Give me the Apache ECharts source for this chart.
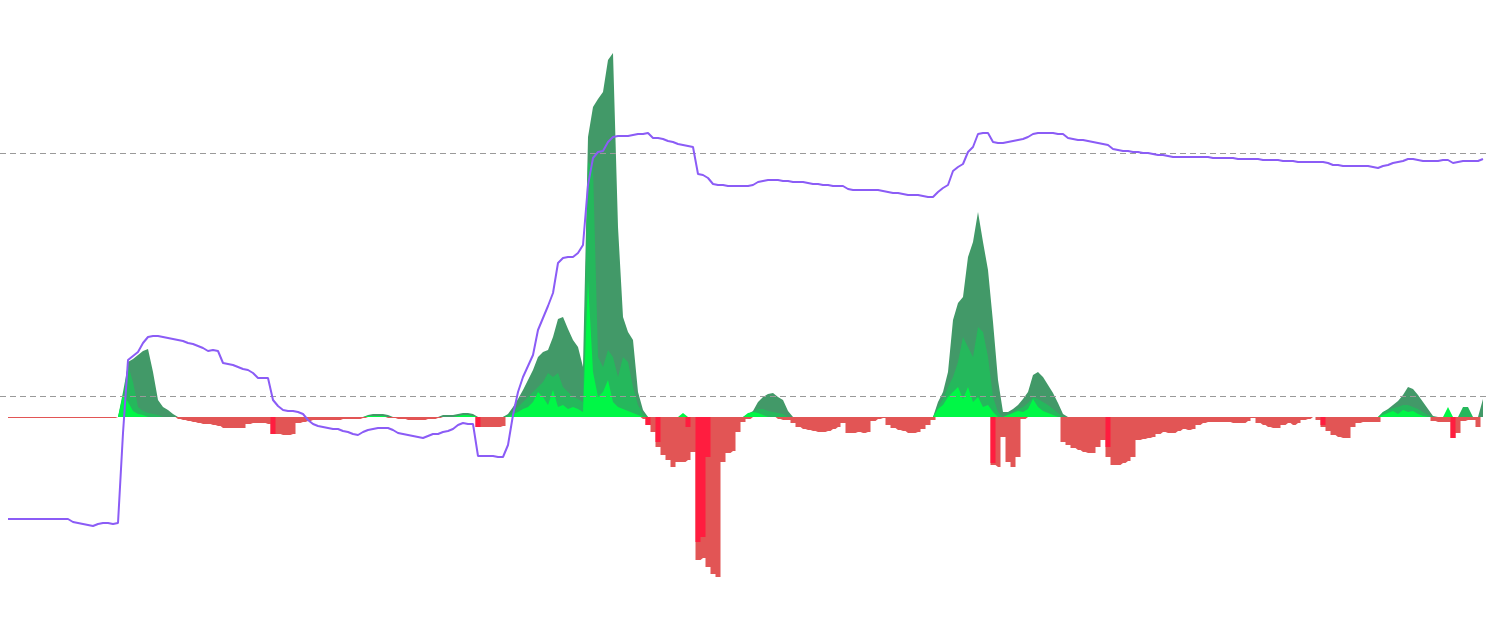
<!DOCTYPE html>
<html><head><meta charset="utf-8">
<script src="https://cdn.jsdelivr.net/npm/echarts@6/dist/echarts.min.js"></script>
<style>html,body{margin:0;padding:0;background:#fff}#c{width:1490px;height:633px}</style>
</head><body><div id="c"></div>
<script>
// purple line (right axis units)
const purple = [
114,114,114,114,114,114,114,114,114,114,
114,114,114,111,110,109,108,107,109,110,
110,109,110,200,273,277,281,290,296,297,
297,296,295,294,293,292,290,289,287,285,
282,283,282,270,269,268,266,264,263,260,
255,255,255,233,227,223,222,222,221,219,
213,209,207,206,205,204,204,202,201,199,
198,201,203,204,205,205,205,203,200,199,
198,197,196,195,197,199,199,201,202,204,
208,210,209,209,177,177,177,177,176,176,
188,218,241,256,267,278,303,315,327,340,
370,375,376,376,380,388,448,475,481,482,
491,496,497,497,497,498,499,499,500,495,
495,494,492,491,489,488,487,486,459,458,
455,449,448,448,447,447,447,447,447,448,
451,452,453,453,453,452,452,451,451,451,
450,449,449,448,448,447,447,447,444,443,
443,443,443,443,443,442,441,440,440,439,
438,438,438,437,436,436,441,445,448,462,
466,469,481,486,499,500,500,491,490,490,
491,492,493,494,496,499,500,500,500,500,
499,499,495,494,493,493,492,491,490,489,
488,484,483,482,482,481,481,480,480,479,
478,478,477,476,476,476,476,476,476,476,
476,475,475,475,475,475,474,474,474,474,
474,473,473,473,473,472,472,472,471,471,
471,471,471,471,470,468,468,467,467,467,
467,467,467,466,465,467,468,470,471,472,
474,474,473,472,472,472,472,473,473,470,
471,472,472,472,472,474
];
const greenDark = [
0,0,0,0,0,0,0,0,0,0,
0,0,0,0,0,0,0,0,0,0,
0,0,0,15,55,58,62,66,68,45,
17,10,7,3,0,0,0,0,0,0,
0,0,0,0,0,0,0,0,0,0,
0,0,0,0,0,0,0,0,0,0,
0,0,0,0,0,0,0,0,0,0,
0,0,2,3,3,3,2,0,0,0,
0,0,0,0,0,0,0,2,2,2,
3,4,4,3,0,0,0,0,0,0,
3,10,18,27,37,47,60,65,67,80,
98,100,88,77,70,50,280,310,318,325,
357,364,190,100,85,77,25,7,0,0,
0,0,0,0,0,0,0,0,0,0,
0,0,0,0,0,0,0,0,3,6,
15,20,23,24,20,17,6,0,0,0,
0,0,0,0,0,0,0,0,0,0,
0,0,0,0,0,0,0,0,0,0,
0,0,0,0,0,0,15,25,45,97,
114,120,160,175,205,175,147,95,37,5,
5,8,12,18,25,42,45,40,32,24,
14,3,0,0,0,0,0,0,0,0,
0,0,0,0,0,0,0,0,0,0,
0,0,0,0,0,0,0,0,0,0,
0,0,0,0,0,0,0,0,0,0,
0,0,0,0,0,0,0,0,0,0,
0,0,0,0,0,0,0,0,0,0,
0,0,0,0,0,5,8,12,16,22,
30,28,22,15,8,1,0,0,0,0,
0,0,0,0,0,18
];
const greenMid = [
0,0,0,0,0,0,0,0,0,0,
0,0,0,0,0,0,0,0,0,0,
0,0,0,25,52,35,10,6,4,3,
2,0,0,0,0,0,0,0,0,0,
0,0,0,0,0,0,0,0,0,0,
0,0,0,0,0,0,0,0,0,0,
0,0,0,0,0,0,0,0,0,0,
0,0,0,0,0,0,0,0,0,0,
0,0,0,0,0,0,0,0,0,0,
0,0,0,0,0,0,0,0,0,0,
2,6,10,15,20,25,30,35,44,40,
44,30,25,20,18,15,255,250,60,50,
67,60,40,60,55,30,12,3,0,0,
0,0,0,0,0,0,0,0,0,0,
0,0,0,0,0,0,0,0,0,5,
8,8,6,5,4,3,0,0,0,0,
0,0,0,0,0,0,0,0,0,0,
0,0,0,0,0,0,0,0,0,0,
0,0,0,0,0,0,10,18,30,40,
55,80,70,60,90,85,60,20,5,0,
3,5,8,10,14,20,18,15,12,8,
4,0,0,0,0,0,0,0,0,0,
0,0,0,0,0,0,0,0,0,0,
0,0,0,0,0,0,0,0,0,0,
0,0,0,0,0,0,0,0,0,0,
0,0,0,0,0,0,0,0,0,0,
0,0,0,0,0,0,0,0,0,0,
0,0,0,0,0,5,7,9,10,12,
12,10,8,5,2,0,0,0,0,0,
0,10,10,0,0,0
];
const greenBright = [
0,0,0,0,0,0,0,0,0,0,
0,0,0,0,0,0,0,0,0,0,
0,0,0,22,15,6,3,2,0,0,
0,0,0,0,0,0,0,0,0,0,
0,0,0,0,0,0,0,0,0,0,
0,0,0,0,0,0,0,0,0,0,
0,0,0,0,0,0,0,0,0,0,
0,0,1,1,1,1,0,0,0,0,
0,0,0,0,0,0,0,0,0,0,
1,2,2,1,0,0,0,0,0,0,
0,3,5,8,10,15,25,20,12,27,
10,12,8,10,8,5,137,45,20,25,
37,15,10,8,6,4,2,0,0,0,
0,0,0,0,0,4,0,0,0,0,
0,0,0,0,0,0,0,0,4,5,
4,2,0,0,0,0,0,0,0,0,
0,0,0,0,0,0,0,0,0,0,
0,0,0,0,0,0,0,0,0,0,
0,0,0,0,0,0,8,12,20,25,
30,18,30,15,20,10,12,5,0,0,
2,4,6,5,8,18,10,6,4,2,
0,0,0,0,0,0,0,0,0,0,
0,0,0,0,0,0,0,0,0,0,
0,0,0,0,0,0,0,0,0,0,
0,0,0,0,0,0,0,0,0,0,
0,0,0,0,0,0,0,0,0,0,
0,0,0,0,0,0,0,0,0,0,
0,0,0,0,0,2,4,6,3,7,
5,6,3,1,0,0,0,0,10,0,
0,0,0,0,0,0
];
// red depths (drawn below zero)
const redOuter = [
1,1,1,1,1,1,1,1,1,1,
1,1,1,1,1,1,1,1,1,1,
1,1,0,0,0,0,0,0,0,0,
0,0,0,0,2,3,4,5,6,7,
7,8,9,11,11,11,11,11,7,6,
6,6,7,17,17,18,18,17,6,5,
4,3,3,3,3,3,3,2,2,2,
2,1,0,0,0,0,1,1,2,2,
3,3,3,3,2,2,1,0,0,0,
0,0,0,0,10,10,10,10,10,9,
0,0,0,0,0,0,0,0,0,0,
0,0,0,0,0,0,0,0,0,0,
0,0,0,0,0,0,0,2,8,15,
30,38,43,50,45,45,43,35,143,141,
150,157,160,45,36,34,15,5,2,0,
0,0,0,0,2,3,3,6,10,12,
13,14,15,15,14,12,10,6,16,16,
15,16,15,4,2,1,8,11,13,14,
16,16,15,12,8,3,0,0,0,0,
0,0,0,0,0,0,0,48,50,20,
45,50,40,2,0,0,0,0,0,0,
0,25,28,31,33,35,36,36,30,23,
40,48,48,46,44,40,23,22,21,20,
17,15,16,16,14,12,13,12,8,6,
5,5,5,5,5,6,6,6,4,1,
6,8,10,11,11,8,6,8,6,3,
2,0,3,10,14,18,20,21,21,10,
6,5,5,5,5,0,0,0,0,0,
0,0,0,0,0,4,5,5,5,21,
16,4,3,3,10,0
];
const redBright = [
0,0,0,0,0,0,0,0,0,0,
0,0,0,0,0,0,0,0,0,0,
0,0,0,0,0,0,0,0,0,0,
0,0,0,0,0,0,0,0,0,0,
0,0,0,0,0,0,0,0,0,0,
0,0,0,17,0,0,0,0,0,0,
0,0,0,0,0,0,0,0,0,0,
0,0,0,0,0,0,0,0,0,0,
0,0,0,0,0,0,0,0,0,0,
0,0,0,0,10,0,0,0,0,0,
0,0,0,0,0,0,0,0,0,0,
0,0,0,0,0,0,0,0,0,0,
0,0,0,0,0,0,0,0,8,0,
25,0,0,0,0,0,10,0,125,120,
40,0,0,0,0,0,0,0,0,0,
0,0,0,0,0,0,0,0,0,0,
0,0,0,0,0,0,0,0,0,0,
0,0,0,0,0,0,0,0,0,0,
0,0,0,0,0,0,0,0,0,0,
0,0,0,0,0,0,0,46,0,0,
0,0,0,0,0,0,0,0,0,0,
0,0,0,0,0,0,0,0,0,0,
30,0,0,0,0,0,0,0,0,0,
0,0,0,0,0,0,0,0,0,0,
0,0,0,0,0,0,0,0,0,0,
0,0,0,0,0,0,0,0,0,0,
0,0,0,8,0,0,0,0,0,0,
0,0,0,0,0,0,0,0,0,0,
0,0,0,0,0,0,0,0,0,21,
0,0,0,0,0,0
];
const refLevels = [264, 21];

const pts = (arr, s) => arr.map((v, i) => [i, s * v]);
const area = (name, arr, s, color, step) => ({
  name, type: 'line', data: pts(arr, s), yAxisIndex: 0, showSymbol: false,
  step: step ? 'middle' : false, lineStyle: { width: 0 }, areaStyle: { color, opacity: 1 },
  silent: true
});

const chart = echarts.init(document.getElementById('c'), null, { renderer: 'canvas' });
const darkSeries = area('greenDark', greenDark, 1, '#429968', false);
darkSeries.markLine = {
  silent: true, symbol: 'none', label: { show: false },
  lineStyle: { type: [6, 4], color: '#9a9a9a', width: 1 },
  data: refLevels.map(v => ({ yAxis: v }))
};
chart.setOption({
  animation: false,
  backgroundColor: '#ffffff',
  grid: { left: 0, right: 4, top: 0, bottom: 0 },
  xAxis: { type: 'value', min: -1.6, max: 295.6, show: false },
  yAxis: [
    { type: 'value', min: -216, max: 417, show: false },
    { type: 'value', min: 0, max: 633, show: false }
  ],
  series: [
    darkSeries,
    area('greenMid', greenMid, 1, '#25b85c', false),
    area('greenBright', greenBright, 1, '#00f746', false),
    area('redOuter', redOuter, -1, '#e25555', true),
    area('redBright', redBright, -1, '#ff1d3f', true),
    {
      name: 'price', type: 'line', yAxisIndex: 1, data: pts(purple, 1), showSymbol: false,
      lineStyle: { color: '#8b5cf6', width: 2 }, silent: true, z: 5
    }
  ]
});
</script></body></html>
